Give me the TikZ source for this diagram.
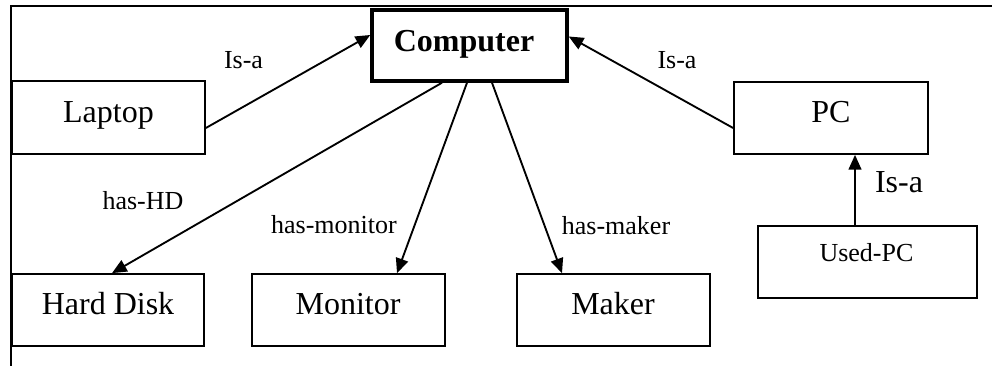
\documentclass[tikz,border=0pt]{standalone}
\usepackage{fontspec}
\setmainfont{Liberation Serif}
\usetikzlibrary{arrows.meta,calc}

\begin{document}
\begin{tikzpicture}[
  x=0.75pt, y=-0.75pt,
  box/.style={draw, line width=1.3pt, inner sep=0pt},
  bigtext/.style={anchor=base, inner sep=0pt, font=\fontsize{24}{28}\selectfont},
  smalltext/.style={anchor=base, inner sep=0pt, font=\fontsize{19.5}{23}\selectfont},
  link/.style={line width=1.4pt, -{Triangle[length=11pt, width=9.5pt]}},
  frame/.style={line width=1.3pt}
]
\useasboundingbox (0,0) rectangle (992,366);

% open frame: top and left edges only
\coordinate (ftr) at (992,6);
\coordinate (ftl) at (11,6);
\coordinate (fbl) at (11,366);
\draw[frame] (ftr) -- (ftl) -- (fbl);

% concept boxes
\node[box, line width=2.6pt, minimum width=195*0.75pt, minimum height=71*0.75pt] (computer) at (469.5,45.5) {};
\node[box, minimum width=193*0.75pt, minimum height=73*0.75pt] (laptop) at (108.5,117.5) {};
\node[box, minimum width=194*0.75pt, minimum height=72*0.75pt] (pc) at (831,118) {};
\node[box, minimum width=219*0.75pt, minimum height=72*0.75pt] (usedpc) at (867.5,262) {};
\node[box, minimum width=192*0.75pt, minimum height=72*0.75pt] (hd) at (108,310) {};
\node[box, minimum width=193*0.75pt, minimum height=72*0.75pt] (monitor) at (348.5,310) {};
\node[box, minimum width=193*0.75pt, minimum height=72*0.75pt] (maker) at (613.5,310) {};

% box captions
\node[bigtext] (tcomputer) at (464,52) {\textbf{Computer}};
\node[bigtext] (tlaptop) at (108.5,123) {Laptop};
\node[bigtext] (tpc) at (831,123) {PC};
\node[smalltext] (tusedpc) at (866.5,262) {Used-PC};
\node[bigtext] (thd) at (108,315) {Hard Disk};
\node[bigtext] (tmonitor) at (348,315) {Monitor};
\node[bigtext] (tmaker) at (613,315) {Maker};

% relations
\draw[link] ($(laptop.east)+(0,10.5)$) -- ($(computer.west)+(0,-10.5)$);
\draw[link] ($(pc.west)+(0,10)$) -- ($(computer.east)+(0,-9)$);
\draw[link] ($(computer.south)+(-27.5,0)$) -- ($(hd.north)+(4,0)$);
\draw[link] ($(computer.south)+(-2.5,0)$) -- ($(monitor.north)+(48.5,0)$);
\draw[link] ($(computer.south)+(22.5,0)$) -- ($(maker.north)+(-51.5,0)$);
\draw[link] ($(usedpc.north)+(-12.5,0)$) -- ($(pc.south)+(24,0)$);

% relation labels
\node[smalltext] (lisa1) at (243.5,69) {Is-a};
\node[smalltext] (lisa2) at (677,69) {Is-a};
\node[bigtext] (lisa3) at (899,193) {Is-a};
\node[smalltext] (lhd) at (143,210) {has-HD};
\node[smalltext] (lmon) at (334,234) {has-monitor};
\node[smalltext] (lmak) at (616,235) {has-maker};
\end{tikzpicture}
\end{document}
